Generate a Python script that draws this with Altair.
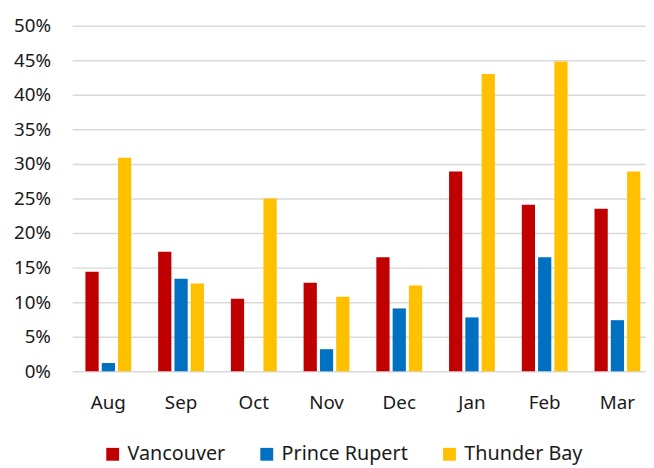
import altair as alt
import pandas as pd

months = ["Aug", "Sep", "Oct", "Nov", "Dec", "Jan", "Feb", "Mar"]
cities = ["Vancouver", "Prince Rupert", "Thunder Bay"]
vancouver = [0.144, 0.173, 0.105, 0.128, 0.165, 0.289, 0.241, 0.235]
prince_rupert = [0.012, 0.134, 0.0, 0.032, 0.091, 0.078, 0.165, 0.074]
thunder_bay = [0.309, 0.127, 0.250, 0.108, 0.124, 0.430, 0.448, 0.289]
colors = ["#C00000", "#0070C0", "#FFC000"]

rows = []
for city, vals in zip(cities, [vancouver, prince_rupert, thunder_bay]):
    for m, v in zip(months, vals):
        rows.append({"month": m, "city": city, "value": v})
df = pd.DataFrame(rows)

font = "Noto Sans"

chart = alt.Chart(df).mark_bar().encode(
    x=alt.X("month:N", sort=months, title=None,
            scale=alt.Scale(paddingInner=0.37, paddingOuter=0.13, align=0.7),
            axis=alt.Axis(labelAngle=0, ticks=False, domain=False, labelPadding=23,
                          labelFontSize=19, labelFont=font, labelColor="#1a1a1a")),
    xOffset=alt.XOffset("city:N", sort=cities,
                        scale=alt.Scale(paddingInner=0.1875, paddingOuter=0)),
    y=alt.Y("value:Q", title=None,
            scale=alt.Scale(domain=[0, 0.5]),
            axis=alt.Axis(format=".0%", values=[i / 20 for i in range(11)],
                          ticks=False, domain=False, labelPadding=22,
                          labelFontSize=19, labelFont=font, labelColor="#1a1a1a",
                          gridColor="#d9d9d9", gridWidth=1.5)),
    color=alt.Color("city:N", sort=cities, title=None,
                    scale=alt.Scale(domain=cities, range=colors),
                    legend=alt.Legend(orient="none", direction="horizontal",
                                      legendX=31, legendY=424,
                                      symbolType="square", symbolSize=169,
                                      symbolStrokeWidth=0,
                                      labelFontSize=20, labelFont=font,
                                      labelColor="#1a1a1a", columnPadding=32,
                                      labelOffset=5)),
).properties(
    width=581, height=350,
    autosize=alt.AutoSizeParams(type="none"),
    padding={"left": 65, "top": 15, "right": 0, "bottom": 95},
).configure_view(stroke=None)

chart.save("out.html", embed_options={"renderer": "svg", "actions": False})
